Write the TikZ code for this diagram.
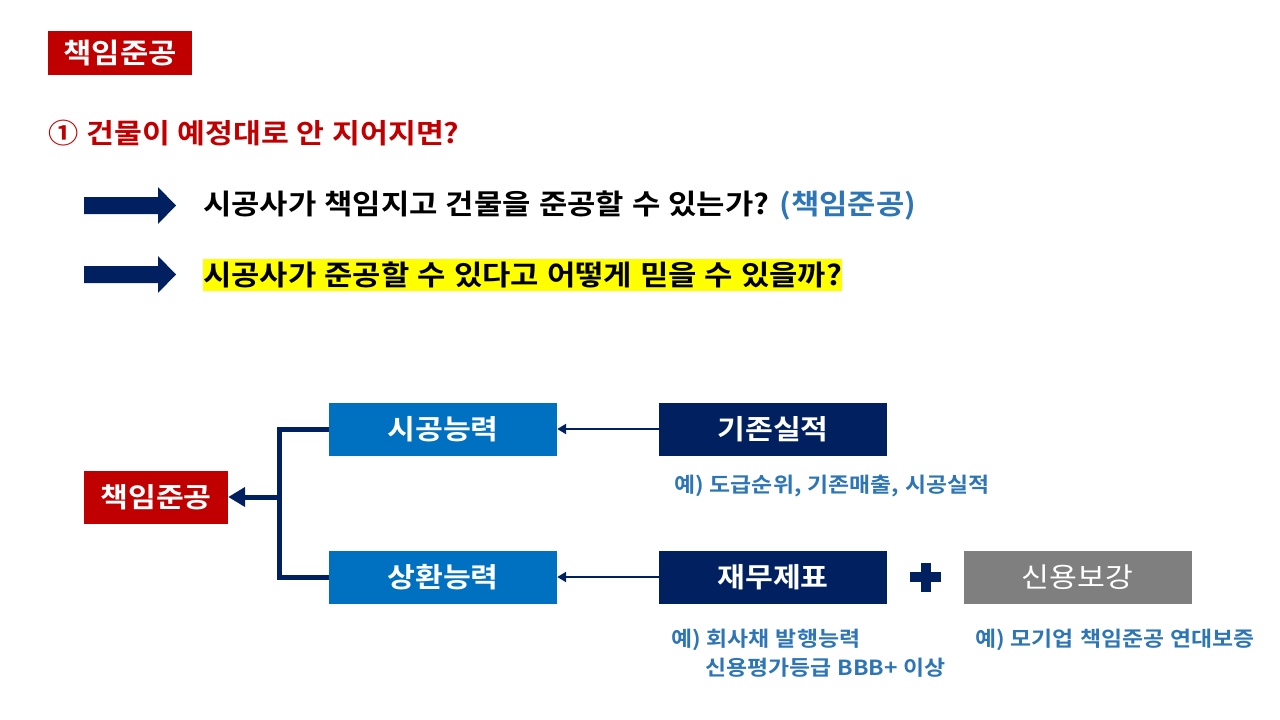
\documentclass[tikz,border=0pt]{standalone}
\usepackage{fontspec}
\setmainfont{Noto Sans CJK KR}[BoldFont={Noto Sans CJK KR Bold}, FakeStretch=1.1, WordSpace=1.15]
\usetikzlibrary{arrows.meta}
\definecolor{cred}{HTML}{C00000}
\definecolor{cblue}{HTML}{0070C0}
\definecolor{cnavy}{HTML}{002060}
\definecolor{cgray}{HTML}{7F7F7F}
\definecolor{ctext}{HTML}{2E75B6}
\definecolor{cyel}{HTML}{FFFF00}
\tikzset{
  box/.style={minimum width=228pt, minimum height=53pt, inner sep=0pt, text=white,
    font=\fontsize{27.5}{30}\selectfont\bfseries},
  redbox/.style={box, fill=cred, minimum width=144pt},
  bluebox/.style={box, fill=cblue},
  navybox/.style={box, fill=cnavy},
  graybox/.style={box, fill=cgray, font=\fontsize{27.5}{30}\selectfont},
  linetext/.style={anchor=west, inner sep=0pt, font=\fontsize{28}{32}\selectfont\bfseries},
  example/.style={anchor=west, inner sep=0pt, text=ctext, font=\fontsize{20.8}{25}\selectfont\bfseries},
  bracket/.style={draw=cnavy, line width=5pt},
  bigarrow/.style={draw=cnavy, line width=5pt, -{Triangle[length=17pt,width=19pt]}},
  thinarrow/.style={draw=cnavy, line width=2.6pt, -{Triangle[length=9pt,width=10pt]}},
  blockarrow/.style={fill=cnavy}
}
\begin{document}
\begin{tikzpicture}[x=1pt,y=-1pt]
\useasboundingbox (0,0) rectangle (1280,720);
% title
\node[redbox, minimum height=44pt, font=\fontsize{28}{32}\selectfont\bfseries] (title) at (120,53) {책임준공};
% question
\node[linetext, text=cred, font=\fontsize{27.5}{30}\selectfont\bfseries] (q) at (48,133) {① 건물이 예정대로 안 지어지면?};
% block arrows
\fill[blockarrow] (84,197) -- (158,197) -- (158,187) -- (176,205.5) -- (158,224) -- (158,214) -- (84,214) -- cycle;
\fill[blockarrow] (84,266) -- (158,266) -- (158,256) -- (176,274.5) -- (158,293) -- (158,283) -- (84,283) -- cycle;
\node[linetext] (l1) at (203,206) {시공사가 책임지고 건물을 준공할 수 있는가? \textcolor{ctext}{(책임준공)}};
\node[linetext, fill=cyel, inner ysep=3pt] (l2) at (203,275) {시공사가 준공할 수 있다고 어떻게 믿을 수 있을까?};
% diagram
\node[redbox] (chaek) at (156,497) {책임준공};
\node[bluebox] (sigong) at (443,429) {시공능력};
\node[bluebox] (sanghwan) at (443,577) {상환능력};
\node[navybox] (gijon) at (773,429) {기존실적};
\node[navybox] (jaemu) at (773,577) {재무제표};
\node[graybox] (sinyong) at (1077.5,577) {신용보강};
\coordinate (junc) at (279,497);
\draw[bracket] (sigong.west) -- (junc |- sigong.west) -- (junc |- sanghwan.west) -- (sanghwan.west);
\draw[bigarrow] (junc) -- (chaek.east);
\draw[thinarrow] (gijon.west) -- (sigong.east);
\draw[thinarrow] (jaemu.west) -- (sanghwan.east);
% plus sign
\fill[cnavy] (910,572) rectangle (941,582);
\fill[cnavy] (920.5,563) rectangle (930.5,592);
% examples
\node[example] (ex1) at (674,486) {예) 도급순위, 기존매출, 시공실적};
\node[example] (ex2) at (671,640) {예) 회사채 발행능력};
\node[example] (ex3) at (705,668) {신용평가등급 BBB+ 이상};
\node[example] (ex4) at (975,640) {예) 모기업 책임준공 연대보증};
\end{tikzpicture}
\end{document}
